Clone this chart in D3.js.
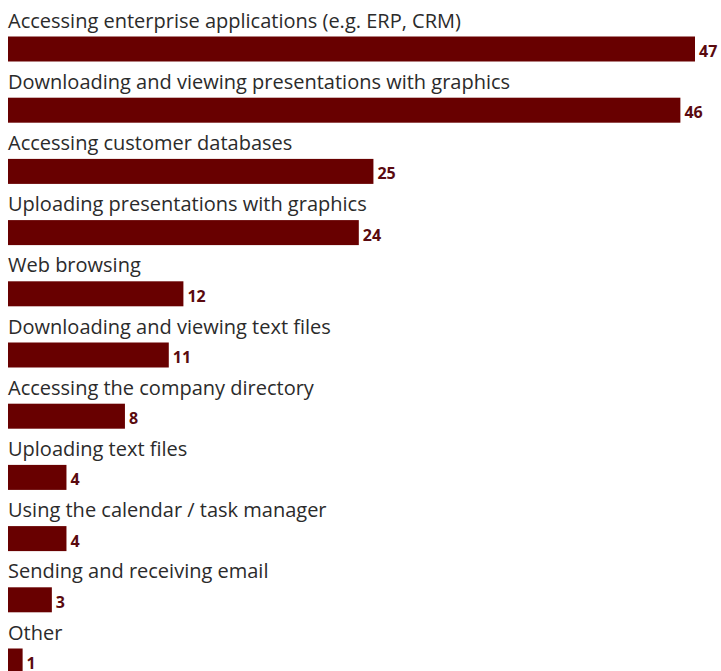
<!DOCTYPE html>
<html lang="en">
<head>
    <meta charset="UTF-8">
    <script src="https://cdnjs.cloudflare.com/ajax/libs/d3/7.8.5/d3.min.js"></script>
    <title>Mobile usage</title>
    <style>
        body { margin: 0; background: #fff; }
        .label { font-family: "Open Sans", sans-serif; font-size: 20px; fill: #2b2b2b; }
        .value { font-family: "Open Sans", sans-serif; font-size: 16px; font-weight: bold; fill: #5a0a0f; }
    </style>
</head>
<body>
    <div id="container"></div>
    <script>
        // ---------- data ----------
        const categories = [
            "Accessing enterprise applications (e.g. ERP, CRM)",
            "Downloading and viewing presentations with graphics",
            "Accessing customer databases",
            "Uploading presentations with graphics",
            "Web browsing",
            "Downloading and viewing text files",
            "Accessing the company directory",
            "Uploading text files",
            "Using the calendar / task manager",
            "Sending and receiving email",
            "Other"
        ]
        const values = [47, 46, 25, 24, 12, 11, 8, 4, 4, 3, 1]

        // ---------- window ----------
        const width = 721, height = 671

        const svg = d3.select("#container").append("svg")
            .attr("width", width)
            .attr("height", height)

        // bar length scale
        const x = d3.scaleLinear()
            .domain([0, 47])
            .range([8, 695])

        // one row per category (label line + bar)
        const y = d3.scaleBand()
            .domain(categories)
            .range([36.5, 36.5 + 61.2 * categories.length])
            .paddingInner(0)
        const barH = 25

        const rows = svg.selectAll("g.row")
            .data(categories.map((c, i) => ({ name: c, value: values[i] })))
            .enter()
            .append("g")
            .attr("class", "row")

        rows.append("rect")
            .attr("x", x(0))
            .attr("y", d => y(d.name))
            .attr("width", d => x(d.value) - x(0))
            .attr("height", barH)
            .attr("fill", "#680000")

        rows.append("text")
            .attr("class", "label")
            .attr("x", x(0))
            .attr("y", d => y(d.name) - 9)
            .text(d => d.name)

        rows.append("text")
            .attr("class", "value")
            .attr("x", d => x(d.value) + 4)
            .attr("y", d => y(d.name) + 20.5)
            .text(d => d.value)
    </script>
</body>
</html>
